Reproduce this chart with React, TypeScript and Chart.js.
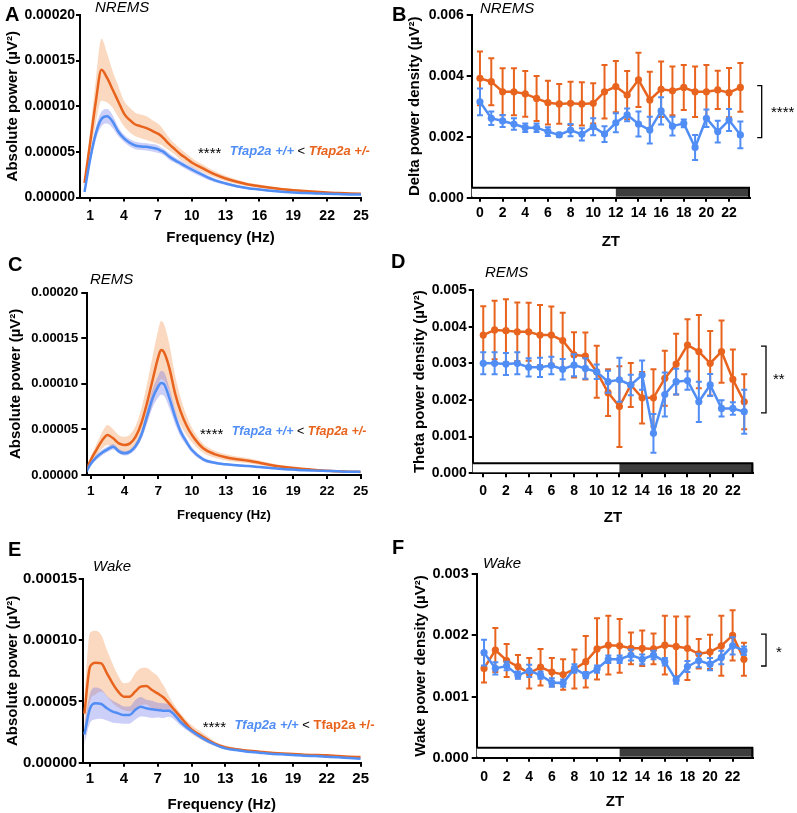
import React, { useEffect, useRef } from "react";
import { Chart, registerables } from "chart.js";
Chart.register(...registerables);

// ---------------- data ----------------
const FREQ = [0.5, 1, 1.5, 2, 2.5, 3, 3.5, 4, 4.5, 5, 5.5, 6, 6.5, 7, 7.25, 7.5, 8, 8.5, 9, 9.5, 10,
  11, 12, 13, 14, 15, 16, 17, 18, 19, 20, 21, 22, 23, 24, 25];
const FREQ_TICKS = [1, 4, 7, 10, 13, 16, 19, 22, 25];
const ZT = [0, 1, 2, 3, 4, 5, 6, 7, 8, 9, 10, 11, 12, 13, 14, 15, 16, 17, 18, 19, 20, 21, 22, 23];
const ZT_TICKS = [0, 2, 4, 6, 8, 10, 12, 14, 16, 18, 20, 22];
const LIGHT_DARK_SPLIT = 12;

const POWER_TICKS_HI = [0, 0.00005, 0.0001, 0.00015, 0.0002];
const POWER_TICKS_WAKE = [0, 0.00005, 0.0001, 0.00015];
const DELTA_TICKS = [0, 0.002, 0.004, 0.006];
const THETA_TICKS = [0, 0.001, 0.002, 0.003, 0.004, 0.005];
const WAKEPOW_TICKS = [0, 0.001, 0.002, 0.003];

// NREMS spectrum
const NREMS_WT_MEAN = [0.6e-5, 4.2e-5, 7.0e-5, 8.6e-5, 8.9e-5, 8.3e-5, 7.2e-5, 6.47e-5, 6.0e-5, 5.7e-5, 5.6e-5, 5.55e-5, 5.45e-5, 5.3e-5, 5.15e-5, 5.0e-5, 4.5e-5, 4.1e-5, 3.75e-5, 3.4e-5, 3.07e-5,
  2.45e-5, 1.9e-5, 1.54e-5, 1.24e-5, 1.02e-5, 0.88e-5, 0.73e-5, 0.62e-5, 0.55e-5, 0.48e-5, 0.44e-5, 0.4e-5, 0.37e-5, 0.34e-5, 0.33e-5];
const NREMS_WT_SEM = [0.2e-5, 0.5e-5, 0.7e-5, 0.8e-5, 0.8e-5, 0.7e-5, 0.5e-5, 0.4e-5, 0.4e-5, 0.4e-5, 0.4e-5, 0.4e-5, 0.4e-5, 0.4e-5, 0.35e-5, 0.35e-5, 0.35e-5, 0.3e-5, 0.3e-5, 0.3e-5, 0.3e-5,
  0.25e-5, 0.2e-5, 0.17e-5, 0.14e-5, 0.12e-5, 0.1e-5, 0.09e-5, 0.08e-5, 0.07e-5, 0.07e-5, 0.06e-5, 0.06e-5, 0.05e-5, 0.05e-5, 0.05e-5];
const NREMS_HET_MEAN = [1.6e-5, 6.0e-5, 10.5e-5, 14.0e-5, 13.1e-5, 11.8e-5, 10.5e-5, 9.2e-5, 8.5e-5, 8.0e-5, 7.8e-5, 7.6e-5, 7.3e-5, 7.0e-5, 6.8e-5, 6.5e-5, 5.85e-5, 5.3e-5, 4.75e-5, 4.3e-5, 3.84e-5,
  3.18e-5, 2.56e-5, 2.08e-5, 1.72e-5, 1.43e-5, 1.24e-5, 1.06e-5, 0.91e-5, 0.8e-5, 0.7e-5, 0.62e-5, 0.55e-5, 0.48e-5, 0.44e-5, 0.4e-5];
const NREMS_HET_SEM = [0.3e-5, 1.2e-5, 2.4e-5, 3.4e-5, 2.7e-5, 2.0e-5, 1.7e-5, 1.4e-5, 1.35e-5, 1.3e-5, 1.3e-5, 1.3e-5, 1.2e-5, 1.1e-5, 1.0e-5, 0.9e-5, 0.7e-5, 0.6e-5, 0.6e-5, 0.55e-5, 0.5e-5,
  0.4e-5, 0.35e-5, 0.3e-5, 0.25e-5, 0.2e-5, 0.18e-5, 0.15e-5, 0.13e-5, 0.12e-5, 0.1e-5, 0.09e-5, 0.08e-5, 0.07e-5, 0.06e-5, 0.06e-5];

// REMS spectrum
const REMS_WT_MEAN = [0.1e-5, 1.2e-5, 1.94e-5, 2.45e-5, 2.82e-5, 3.11e-5, 2.6e-5, 2.38e-5, 2.56e-5, 3.18e-5, 4.39e-5, 6.4e-5, 8.41e-5, 9.69e-5, 10.1e-5, 10.0e-5, 8.41e-5, 6.4e-5, 4.75e-5, 3.66e-5, 2.74e-5,
  1.72e-5, 1.35e-5, 1.17e-5, 1.06e-5, 0.99e-5, 0.88e-5, 0.77e-5, 0.66e-5, 0.59e-5, 0.51e-5, 0.48e-5, 0.44e-5, 0.4e-5, 0.37e-5, 0.37e-5];
const REMS_WT_SEM = [0.1e-5, 0.2e-5, 0.3e-5, 0.3e-5, 0.3e-5, 0.3e-5, 0.25e-5, 0.25e-5, 0.25e-5, 0.35e-5, 0.5e-5, 0.8e-5, 1.0e-5, 1.2e-5, 1.3e-5, 1.3e-5, 1.1e-5, 0.8e-5, 0.55e-5, 0.4e-5, 0.3e-5,
  0.2e-5, 0.15e-5, 0.13e-5, 0.12e-5, 0.11e-5, 0.1e-5, 0.09e-5, 0.08e-5, 0.07e-5, 0.07e-5, 0.06e-5, 0.06e-5, 0.05e-5, 0.05e-5, 0.05e-5];
const REMS_HET_MEAN = [0.3e-5, 1.65e-5, 2.74e-5, 3.77e-5, 4.39e-5, 4.02e-5, 3.47e-5, 3.29e-5, 3.47e-5, 4.2e-5, 5.67e-5, 7.86e-5, 10.4e-5, 12.9e-5, 13.7e-5, 13.5e-5, 11.7e-5, 8.96e-5, 6.95e-5, 5.48e-5, 4.39e-5,
  2.93e-5, 2.3e-5, 1.94e-5, 1.72e-5, 1.57e-5, 1.35e-5, 1.1e-5, 0.91e-5, 0.77e-5, 0.66e-5, 0.55e-5, 0.48e-5, 0.4e-5, 0.37e-5, 0.33e-5];
const REMS_HET_SEM = [0.1e-5, 0.3e-5, 0.6e-5, 0.9e-5, 1.1e-5, 1.0e-5, 0.9e-5, 0.9e-5, 1.0e-5, 1.2e-5, 1.6e-5, 2.1e-5, 2.6e-5, 3.0e-5, 3.2e-5, 3.1e-5, 2.6e-5, 2.0e-5, 1.5e-5, 1.1e-5, 0.8e-5,
  0.5e-5, 0.4e-5, 0.35e-5, 0.3e-5, 0.28e-5, 0.25e-5, 0.2e-5, 0.17e-5, 0.15e-5, 0.13e-5, 0.11e-5, 0.1e-5, 0.09e-5, 0.08e-5, 0.07e-5];

// Wake spectrum
const WAKE_WT_MEAN = [2.3e-5, 4.44e-5, 4.85e-5, 4.79e-5, 4.44e-5, 4.17e-5, 4.03e-5, 3.89e-5, 3.89e-5, 4.3e-5, 4.57e-5, 4.44e-5, 4.36e-5, 4.3e-5, 4.28e-5, 4.25e-5, 4.25e-5, 3.89e-5, 3.35e-5, 2.94e-5, 2.61e-5,
  1.99e-5, 1.52e-5, 1.17e-5, 1.03e-5, 0.9e-5, 0.82e-5, 0.74e-5, 0.68e-5, 0.63e-5, 0.57e-5, 0.54e-5, 0.49e-5, 0.44e-5, 0.38e-5, 0.33e-5];
const WAKE_WT_SEM = [0.8e-5, 1.2e-5, 1.3e-5, 1.2e-5, 1.0e-5, 0.9e-5, 0.8e-5, 0.7e-5, 0.7e-5, 0.8e-5, 0.8e-5, 0.7e-5, 0.7e-5, 0.6e-5, 0.6e-5, 0.6e-5, 0.5e-5, 0.4e-5, 0.3e-5, 0.25e-5, 0.2e-5,
  0.15e-5, 0.12e-5, 0.1e-5, 0.09e-5, 0.08e-5, 0.07e-5, 0.06e-5, 0.06e-5, 0.05e-5, 0.05e-5, 0.05e-5, 0.05e-5, 0.04e-5, 0.04e-5, 0.04e-5];
const WAKE_HET_MEAN = [4.0e-5, 7.84e-5, 8.17e-5, 8.11e-5, 7.3e-5, 6.48e-5, 5.8e-5, 5.39e-5, 5.39e-5, 5.8e-5, 6.21e-5, 6.26e-5, 5.93e-5, 5.66e-5, 5.5e-5, 5.34e-5, 4.85e-5, 4.3e-5, 3.76e-5, 3.21e-5, 2.72e-5,
  2.12e-5, 1.58e-5, 1.25e-5, 1.09e-5, 0.98e-5, 0.9e-5, 0.82e-5, 0.76e-5, 0.71e-5, 0.65e-5, 0.63e-5, 0.6e-5, 0.54e-5, 0.49e-5, 0.46e-5];
const WAKE_HET_SEM = [1.5e-5, 2.8e-5, 2.6e-5, 2.3e-5, 1.9e-5, 1.6e-5, 1.3e-5, 1.1e-5, 1.2e-5, 1.5e-5, 1.5e-5, 1.5e-5, 1.5e-5, 1.4e-5, 1.2e-5, 1.0e-5, 0.6e-5, 0.4e-5, 0.3e-5, 0.3e-5, 0.35e-5,
  0.3e-5, 0.2e-5, 0.15e-5, 0.12e-5, 0.11e-5, 0.1e-5, 0.09e-5, 0.08e-5, 0.08e-5, 0.07e-5, 0.07e-5, 0.06e-5, 0.06e-5, 0.06e-5, 0.06e-5];

// NREMS delta power across ZT
const DELTA_WT_MEAN = [0.00315, 0.00261, 0.00252, 0.00242, 0.0023, 0.0023, 0.00217, 0.00206, 0.00222, 0.00208, 0.00233, 0.00209, 0.00246, 0.00272, 0.00242, 0.00222, 0.00285, 0.00235, 0.00244, 0.00165, 0.00261, 0.00217, 0.00255, 0.00206];
const DELTA_WT_SEM = [0.00044, 0.00022, 0.0002, 0.00019, 0.00014, 0.00014, 0.00014, 0.00007, 0.0002, 0.0002, 0.00028, 0.00026, 0.00031, 0.00021, 0.00041, 0.00044, 0.00045, 0.00031, 0.00013, 0.00041, 0.00029, 0.00036, 0.00036, 0.00044];
const DELTA_HET_MEAN = [0.00392, 0.00381, 0.00348, 0.00348, 0.00341, 0.00326, 0.00312, 0.00308, 0.0031, 0.00308, 0.0031, 0.00348, 0.00365, 0.00337, 0.00387, 0.00321, 0.00356, 0.00351, 0.00362, 0.00348, 0.00348, 0.00354, 0.00345, 0.00362];
const DELTA_HET_SEM = [0.00088, 0.00077, 0.00077, 0.00077, 0.00075, 0.00074, 0.00072, 0.00065, 0.00071, 0.00071, 0.00066, 0.00088, 0.00084, 0.00079, 0.00089, 0.00093, 0.00091, 0.0008, 0.00074, 0.00083, 0.00088, 0.00063, 0.00081, 0.0008];
const DELTA_BRACKET = [0.00197, 0.00368];

// REMS theta power across ZT
const THETA_WT_MEAN = [0.003, 0.003, 0.00298, 0.003, 0.00289, 0.00289, 0.00294, 0.00284, 0.00295, 0.00286, 0.00277, 0.0025, 0.00255, 0.00241, 0.00268, 0.00109, 0.00215, 0.0025, 0.00253, 0.00195, 0.00241, 0.00177, 0.00177, 0.00168];
const THETA_WT_SEM = [0.0003, 0.0003, 0.0003, 0.0003, 0.00025, 0.00026, 0.00024, 0.00028, 0.0003, 0.00028, 0.0002, 0.0003, 0.0006, 0.00028, 0.0004, 0.00053, 0.0006, 0.00035, 0.00025, 0.00055, 0.0003, 0.00022, 0.00017, 0.0006];
const THETA_HET_MEAN = [0.00377, 0.00391, 0.00389, 0.00386, 0.00386, 0.00377, 0.00377, 0.00362, 0.00323, 0.0032, 0.00277, 0.0022, 0.00182, 0.00241, 0.00206, 0.00206, 0.00259, 0.00298, 0.0035, 0.00332, 0.003, 0.00332, 0.00256, 0.00195];
const THETA_HET_SEM = [0.00079, 0.0008, 0.00086, 0.0008, 0.00079, 0.00082, 0.00078, 0.00076, 0.00062, 0.00064, 0.00071, 0.00064, 0.0011, 0.0006, 0.0007, 0.00078, 0.00075, 0.00083, 0.0007, 0.001, 0.00088, 0.00085, 0.00082, 0.00075];
const THETA_BRACKET = [0.00165, 0.00347];

// Wake power across ZT
const WAKEPOW_WT_MEAN = [0.00172, 0.00146, 0.0015, 0.00135, 0.00142, 0.00135, 0.00123, 0.00122, 0.00146, 0.00135, 0.00145, 0.00161, 0.00161, 0.00168, 0.00161, 0.00168, 0.00157, 0.00127, 0.00149, 0.00159, 0.00153, 0.00164, 0.00183, 0.00175];
const WAKEPOW_WT_SEM = [0.00021, 0.0001, 0.00007, 0.00006, 0.0001, 0.00006, 0.00007, 0.00006, 0.00007, 0.00005, 0.00006, 0.00006, 0.00006, 0.00009, 0.00008, 0.00007, 0.00006, 0.00006, 0.00009, 0.00011, 0.0001, 0.00011, 0.00014, 0.00007];
const WAKEPOW_HET_MEAN = [0.00146, 0.00176, 0.00159, 0.00149, 0.00138, 0.00148, 0.0014, 0.00136, 0.00145, 0.00157, 0.00178, 0.00184, 0.00183, 0.00179, 0.00179, 0.00178, 0.00184, 0.00182, 0.00179, 0.0017, 0.00173, 0.00183, 0.002, 0.00161];
const WAKEPOW_HET_SEM = [0.00023, 0.00036, 0.00027, 0.00019, 0.00025, 0.0003, 0.00023, 0.00025, 0.00032, 0.00042, 0.0005, 0.00048, 0.00044, 0.00026, 0.00029, 0.00025, 0.00048, 0.00049, 0.00052, 0.00024, 0.00028, 0.00049, 0.00041, 0.00027];
const WAKEPOW_BRACKET = [0.0015, 0.00202];

// ---------------- styles ----------------
const W = 797;
const H = 813;
const FONT = "'Liberation Sans', Arial, Helvetica, sans-serif";
const BLUE = "rgb(80,141,245)";
const ORANGE = "rgb(232,100,30)";
const BLUE_BAND = "rgba(100,110,235,0.33)";
const ORANGE_BAND = "rgba(240,150,80,0.36)";
const Y_TITLE_SIZE = 15;
const WT_LABEL = "Tfap2a +/+";
const HET_LABEL = "Tfap2a +/-";

type Layout = {
  l: number; t: number; r: number; b: number;
  yTitleX: number; xTitleY: number; xTitleSize: number;
  yTickSize: number; xTickSize: number;
  yTickLen: number; yTickPad: number; xTickLen: number; xTickCenter: number;
};

type Panel = {
  kind: "spectrum" | "zt";
  letter: string; letterPos: [number, number];
  state: string; statePos: [number, number];
  xMin: number; xMax: number; xTicks: number[]; xTitle: string;
  yTicks: number[]; yTitle: string; decimals: number;
  xs: number[];
  wtMean: number[]; wtSem: number[]; hetMean: number[]; hetSem: number[];
  layout: Layout;
  annot?: { x: number; y: number; size: number; hetItalic: boolean };
  bracket?: { values: number[]; x: number; tick: number; stars: string; starX: number; starY: number };
};

const PANELS: Panel[] = [
  {
    kind: "spectrum", letter: "A", letterPos: [5, 15], state: "NREMS", statePos: [95, 7.5],
    xMin: 0.1, xMax: 25, xTicks: FREQ_TICKS, xTitle: "Frequency (Hz)",
    yTicks: POWER_TICKS_HI, yTitle: "Absolute power (\u00B5V\u00B2)", decimals: 5, xs: FREQ,
    wtMean: NREMS_WT_MEAN, wtSem: NREMS_WT_SEM, hetMean: NREMS_HET_MEAN, hetSem: NREMS_HET_SEM,
    layout: { l: 80, t: 15, r: 361, b: 197.5, yTitleX: 13, xTitleY: 238, xTitleSize: 15, yTickSize: 14, xTickSize: 14, yTickLen: 4, yTickPad: 1, xTickLen: 4, xTickCenter: 215.7 },
    annot: { x: 198, y: 151, size: 13, hetItalic: true },
  },
  {
    kind: "zt", letter: "B", letterPos: [392, 15], state: "NREMS", statePos: [480, 9],
    xMin: -0.73, xMax: 23.85, xTicks: ZT_TICKS, xTitle: "ZT",
    yTicks: DELTA_TICKS, yTitle: "Delta power density (\u00B5V\u00B2)", decimals: 3, xs: ZT,
    wtMean: DELTA_WT_MEAN, wtSem: DELTA_WT_SEM, hetMean: DELTA_HET_MEAN, hetSem: DELTA_HET_SEM,
    layout: { l: 471.7, t: 15, r: 750, b: 197.7, yTitleX: 415, xTitleY: 242, xTitleSize: 15, yTickSize: 14, xTickSize: 14, yTickLen: 5, yTickPad: 3, xTickLen: 4, xTickCenter: 213 },
    bracket: { values: DELTA_BRACKET, x: 761.7, tick: 4.5, stars: "****", starX: 771, starY: 113 },
  },
  {
    kind: "spectrum", letter: "C", letterPos: [8, 265.5], state: "REMS", statePos: [90, 280],
    xMin: 0.7, xMax: 25, xTicks: FREQ_TICKS, xTitle: "Frequency (Hz)",
    yTicks: POWER_TICKS_HI, yTitle: "Absolute power (\u00B5V\u00B2)", decimals: 5, xs: FREQ,
    wtMean: REMS_WT_MEAN, wtSem: REMS_WT_SEM, hetMean: REMS_HET_MEAN, hetSem: REMS_HET_SEM,
    layout: { l: 87.3, t: 292.7, r: 360.7, b: 475, yTitleX: 15.5, xTitleY: 515, xTitleSize: 13, yTickSize: 13, xTickSize: 13.5, yTickLen: 6, yTickPad: 3, xTickLen: 4, xTickCenter: 491.7 },
    annot: { x: 200, y: 431.7, size: 12.5, hetItalic: true },
  },
  {
    kind: "zt", letter: "D", letterPos: [391, 262.5], state: "REMS", statePos: [485, 273],
    xMin: -0.93, xMax: 23.8, xTicks: ZT_TICKS, xTitle: "ZT",
    yTicks: THETA_TICKS, yTitle: "Theta power density (\u00B5V\u00B2)", decimals: 3, xs: ZT,
    wtMean: THETA_WT_MEAN, wtSem: THETA_WT_SEM, hetMean: THETA_HET_MEAN, hetSem: THETA_HET_SEM,
    layout: { l: 472.7, t: 290, r: 753.3, b: 473.3, yTitleX: 420, xTitleY: 518.3, xTitleSize: 15, yTickSize: 14, xTickSize: 14, yTickLen: 4, yTickPad: 2, xTickLen: 4, xTickCenter: 490.7 },
    bracket: { values: THETA_BRACKET, x: 766, tick: 5, stars: "**", starX: 773, starY: 380 },
  },
  {
    kind: "spectrum", letter: "E", letterPos: [8, 550.5], state: "Wake", statePos: [93, 567],
    xMin: 0.35, xMax: 25, xTicks: FREQ_TICKS, xTitle: "Frequency (Hz)",
    yTicks: POWER_TICKS_WAKE, yTitle: "Absolute power (\u00B5V\u00B2)", decimals: 5, xs: FREQ,
    wtMean: WAKE_WT_MEAN, wtSem: WAKE_WT_SEM, hetMean: WAKE_HET_MEAN, hetSem: WAKE_HET_SEM,
    layout: { l: 82.7, t: 579, r: 360.7, b: 762.7, yTitleX: 13, xTitleY: 805, xTitleSize: 15, yTickSize: 15, xTickSize: 15, yTickLen: 4, yTickPad: 1.5, xTickLen: 4, xTickCenter: 779.3 },
    annot: { x: 202.7, y: 725, size: 13, hetItalic: false },
  },
  {
    kind: "zt", letter: "F", letterPos: [392, 548], state: "Wake", statePos: [483, 563.5],
    xMin: -0.65, xMax: 23.83, xTicks: ZT_TICKS, xTitle: "ZT",
    yTicks: WAKEPOW_TICKS, yTitle: "Wake power density (\u00B5V\u00B2)", decimals: 3, xs: ZT,
    wtMean: WAKEPOW_WT_MEAN, wtSem: WAKEPOW_WT_SEM, hetMean: WAKEPOW_HET_MEAN, hetSem: WAKEPOW_HET_SEM,
    layout: { l: 476.7, t: 574.3, r: 753.3, b: 757.7, yTitleX: 421, xTitleY: 801.7, xTitleSize: 15, yTickSize: 14.5, xTickSize: 14, yTickLen: 5, yTickPad: 3, xTickLen: 4, xTickCenter: 776.7 },
    bracket: { values: WAKEPOW_BRACKET, x: 766, tick: 5, stars: "*", starX: 776, starY: 653 },
  },
];

// ---------------- helpers ----------------
function pts(xs: number[], ys: number[]) {
  return xs.map((x, i) => ({ x, y: ys[i] }));
}
function band(xs: number[], m: number[], s: number[], sign: number) {
  return xs.map((x, i) => ({ x, y: m[i] + sign * s[i] }));
}

function spectrumDatasets(p: Panel) {
  const line = (data: any, color: string, label: string) => ({
    label, data, borderColor: color, backgroundColor: color, borderWidth: 2.5,
    pointRadius: 0, fill: false, cubicInterpolationMode: "monotone",
  });
  const edge = (data: any, fill: any, color: string) => ({
    data, borderWidth: 0, borderColor: "rgba(0,0,0,0)", backgroundColor: color,
    pointRadius: 0, fill, cubicInterpolationMode: "monotone",
  });
  return [
    line(pts(p.xs, p.wtMean), BLUE, WT_LABEL),
    line(pts(p.xs, p.hetMean), ORANGE, HET_LABEL),
    edge(band(p.xs, p.wtMean, p.wtSem, 1), "+1", BLUE_BAND),
    edge(band(p.xs, p.wtMean, p.wtSem, -1), false, BLUE_BAND),
    edge(band(p.xs, p.hetMean, p.hetSem, 1), "+1", ORANGE_BAND),
    edge(band(p.xs, p.hetMean, p.hetSem, -1), false, ORANGE_BAND),
  ];
}

function ztDatasets(p: Panel) {
  const line = (data: any, color: string, label: string) => ({
    label, data, borderColor: color, backgroundColor: color, borderWidth: 2.5,
    pointRadius: 3.6, pointBorderWidth: 0, pointBackgroundColor: color, fill: false, tension: 0,
  });
  return [
    line(pts(p.xs, p.wtMean), BLUE, WT_LABEL),
    line(pts(p.xs, p.hetMean), ORANGE, HET_LABEL),
  ];
}

function makeDecor(p: Panel) {
  return {
    id: "decor" + p.letter,
    beforeDatasetsDraw(chart: any) {
      if (p.kind !== "zt") return;
      const ctx = chart.ctx;
      const { left, right, bottom } = chart.chartArea;
      const xs = chart.scales.x;
      const split = xs.getPixelForValue(LIGHT_DARK_SPLIT);
      const top = bottom - 10;
      ctx.save();
      ctx.fillStyle = "#ffffff";
      ctx.fillRect(left, top, split - left, 9);
      ctx.fillStyle = "#3d3d3d";
      ctx.fillRect(split, top, right - split, 9);
      ctx.strokeStyle = "#000";
      ctx.lineWidth = 2;
      ctx.beginPath();
      ctx.moveTo(left, top);
      ctx.lineTo(right, top);
      ctx.moveTo(right - 1, top);
      ctx.lineTo(right - 1, bottom);
      ctx.stroke();
      ctx.restore();
    },
    beforeDatasetDraw(chart: any, args: any) {
      if (p.kind !== "zt") return;
      const idx = args.index;
      const mean = idx === 0 ? p.wtMean : p.hetMean;
      const sem = idx === 0 ? p.wtSem : p.hetSem;
      const color = idx === 0 ? BLUE : ORANGE;
      const ys = chart.scales.y;
      const ctx = chart.ctx;
      ctx.save();
      ctx.strokeStyle = color;
      ctx.lineWidth = 2;
      ctx.beginPath();
      args.meta.data.forEach((pt: any, i: number) => {
        const x = pt.x;
        const y1 = ys.getPixelForValue(mean[i] + sem[i]);
        const y2 = ys.getPixelForValue(mean[i] - sem[i]);
        ctx.moveTo(x, y1); ctx.lineTo(x, y2);
        ctx.moveTo(x - 3, y1); ctx.lineTo(x + 3, y1);
        ctx.moveTo(x - 3, y2); ctx.lineTo(x + 3, y2);
      });
      ctx.stroke();
      ctx.restore();
    },
    afterDraw(chart: any) {
      const ctx = chart.ctx;
      ctx.save();
      ctx.textBaseline = "middle";
      ctx.textAlign = "left";
      ctx.fillStyle = "#000";
      ctx.font = `bold 20px ${FONT}`;
      ctx.fillText(p.letter, p.letterPos[0], p.letterPos[1]);
      ctx.font = `italic 15px ${FONT}`;
      ctx.fillText(p.state, p.statePos[0], p.statePos[1]);
      if (p.annot) {
        const a = p.annot;
        const pieces = [
          { t: "****  ", f: `15px ${FONT}`, c: "#000" },
          { t: WT_LABEL, f: `italic bold ${a.size}px ${FONT}`, c: BLUE },
          { t: " < ", f: `${a.size}px ${FONT}`, c: "#000" },
          { t: HET_LABEL, f: `${a.hetItalic ? "italic " : ""}bold ${a.size}px ${FONT}`, c: ORANGE },
        ];
        let x = a.x;
        for (const pc of pieces) {
          ctx.font = pc.f;
          ctx.fillStyle = pc.c;
          ctx.fillText(pc.t, x, pc.t.startsWith("*") ? a.y + 3 : a.y);
          x += ctx.measureText(pc.t).width;
        }
      }
      if (p.bracket) {
        const br = p.bracket;
        const ys = chart.scales.y;
        const y1 = ys.getPixelForValue(br.values[1]);
        const y2 = ys.getPixelForValue(br.values[0]);
        ctx.strokeStyle = "#000";
        ctx.lineWidth = 1.3;
        ctx.beginPath();
        ctx.moveTo(br.x - br.tick, y1);
        ctx.lineTo(br.x, y1);
        ctx.lineTo(br.x, y2);
        ctx.lineTo(br.x - br.tick, y2);
        ctx.stroke();
        ctx.fillStyle = "#000";
        ctx.font = `15px ${FONT}`;
        ctx.fillText(br.stars, br.starX, br.starY);
      }
      ctx.restore();
    },
  };
}

function buildConfig(p: Panel): any {
  const L = p.layout;
  const padLeft = L.yTitleX - Y_TITLE_SIZE / 2;
  const yW = L.l - padLeft;
  const bottomEdge = L.xTitleY + L.xTitleSize / 2;
  const xH = bottomEdge - L.b;
  const xTickPad = L.xTickCenter - L.b - L.xTickLen - L.xTickSize * 0.6;
  const datasets = p.kind === "spectrum" ? spectrumDatasets(p) : ztDatasets(p);
  return {
    type: "line",
    data: { datasets },
    options: {
      responsive: false,
      animation: false,
      devicePixelRatio: 1,
      events: [],
      layout: { padding: { left: padLeft, top: L.t, right: W - L.r, bottom: H - bottomEdge } },
      plugins: { legend: { display: false }, tooltip: { enabled: false }, title: { display: false } },
      scales: {
        x: {
          type: "linear",
          min: p.xMin,
          max: p.xMax,
          afterBuildTicks: (s: any) => { s.ticks = p.xTicks.map((v) => ({ value: v })); },
          afterFit: (s: any) => { s.height = xH; },
          grid: { display: true, drawOnChartArea: false, drawTicks: true, tickLength: L.xTickLen, color: "#000", lineWidth: 2 },
          border: { display: true, color: "#000", width: 2 },
          ticks: {
            color: "#000", autoSkip: false, maxRotation: 0, minRotation: 0, padding: xTickPad,
            font: { family: FONT, size: L.xTickSize, weight: "bold" },
            callback: (v: any) => String(v),
          },
          title: {
            display: true, text: p.xTitle, color: "#000", padding: 0,
            font: { family: FONT, size: L.xTitleSize, weight: "bold", lineHeight: 1 },
          },
        },
        y: {
          type: "linear",
          min: p.yTicks[0],
          max: p.yTicks[p.yTicks.length - 1],
          afterBuildTicks: (s: any) => { s.ticks = p.yTicks.map((v) => ({ value: v })); },
          afterFit: (s: any) => { s.width = yW; },
          grid: { display: true, drawOnChartArea: false, drawTicks: true, tickLength: L.yTickLen, color: "#000", lineWidth: 2 },
          border: { display: true, color: "#000", width: 2 },
          ticks: {
            color: "#000", padding: L.yTickPad,
            font: { family: FONT, size: L.yTickSize, weight: "bold" },
            callback: (v: any) => Number(v).toFixed(p.decimals),
          },
          title: {
            display: true, text: p.yTitle, color: "#000", padding: 0,
            font: { family: FONT, size: Y_TITLE_SIZE, weight: "bold", lineHeight: 1 },
          },
        },
      },
    },
    plugins: [makeDecor(p)],
  };
}

export default function App() {
  const refs = useRef<(HTMLCanvasElement | null)[]>([]);
  useEffect(() => {
    document.body.style.margin = "0";
    const charts = PANELS.map((p, i) => new Chart(refs.current[i] as HTMLCanvasElement, buildConfig(p)));
    return () => charts.forEach((c) => c.destroy());
  }, []);
  return (
    <div style={{ position: "relative", width: W, height: H, background: "#fff", overflow: "hidden" }}>
      {PANELS.map((p, i) => (
        <canvas
          key={p.letter}
          ref={(el) => { refs.current[i] = el; }}
          width={W}
          height={H}
          style={{ position: "absolute", left: 0, top: 0, width: W, height: H }}
        />
      ))}
    </div>
  );
}
